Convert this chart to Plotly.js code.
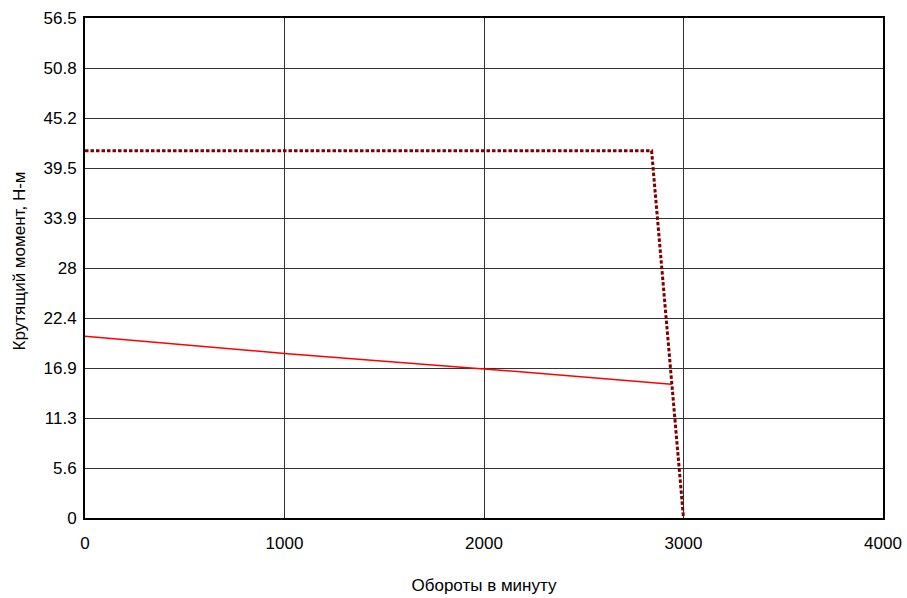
<!DOCTYPE html>
<html><head><meta charset="utf-8">
<script src="https://cdn.plot.ly/plotly-3.0.1.min.js"></script>
<style>body{margin:0}#c{width:907px;height:598px}</style>
</head><body><div id="c"></div>
<script>
const contX = [0, 1000, 2000, 2940];
const contY = [20.55, 18.6, 16.85, 15.1];
const peakX = [0, 2840, 3000];
const peakY = [41.5, 41.5, 0];
const yTickVals = [0, 5.65, 11.3, 16.95, 22.6, 28.25, 33.9, 39.55, 45.2, 50.85, 56.5];
const yTickText = ['0', '5.6', '11.3', '16.9', '22.4', '28', '33.9', '39.5', '45.2', '50.8', '56.5'];
const xTickVals = [0, 1000, 2000, 3000, 4000];
const xTitle = 'Обороты в минуту';
const yTitle = 'Крутящий момент, Н-м';

const data = [
  {x: contX, y: contY, mode: 'lines', line: {color: '#ff0000', width: 1.5}, showlegend: false, hoverinfo: 'skip'},
  {x: peakX, y: peakY, mode: 'lines', line: {color: '#800000', width: 3, dash: '3.5px,2px'}, showlegend: false, hoverinfo: 'skip'}
];
const layout = {
  width: 907, height: 598,
  margin: {l: 85, r: 24, t: 18, b: 80},
  paper_bgcolor: '#ffffff', plot_bgcolor: '#ffffff',
  font: {family: 'Liberation Sans, Arial, sans-serif', size: 17, color: '#000'},
  xaxis: {
    range: [0, 4000], tickvals: xTickVals, ticktext: xTickVals.map(String),
    showgrid: true, gridcolor: '#333', gridwidth: 1, zeroline: false,
    showline: true, linecolor: '#000', linewidth: 2, mirror: true,
    ticks: 'outside', ticklen: 9, tickcolor: 'rgba(0,0,0,0)',
    tickfont: {size: 17},
    title: {text: xTitle, font: {size: 17}, standoff: 27}
  },
  yaxis: {
    range: [0, 56.5], tickvals: yTickVals, ticktext: yTickText,
    showgrid: true, gridcolor: '#333', gridwidth: 1, zeroline: false,
    showline: true, linecolor: '#000', linewidth: 2, mirror: true,
    ticks: 'outside', ticklen: 3, tickcolor: 'rgba(0,0,0,0)',
    tickfont: {size: 17}
  },
  annotations: [{
    text: yTitle, textangle: -90, showarrow: false,
    xref: 'paper', yref: 'paper', x: -0.0827, y: 0.513,
    xanchor: 'center', yanchor: 'middle', font: {size: 17}
  }]
};
Plotly.newPlot('c', data, layout, {staticPlot: true, displayModeBar: false});
</script></body></html>
